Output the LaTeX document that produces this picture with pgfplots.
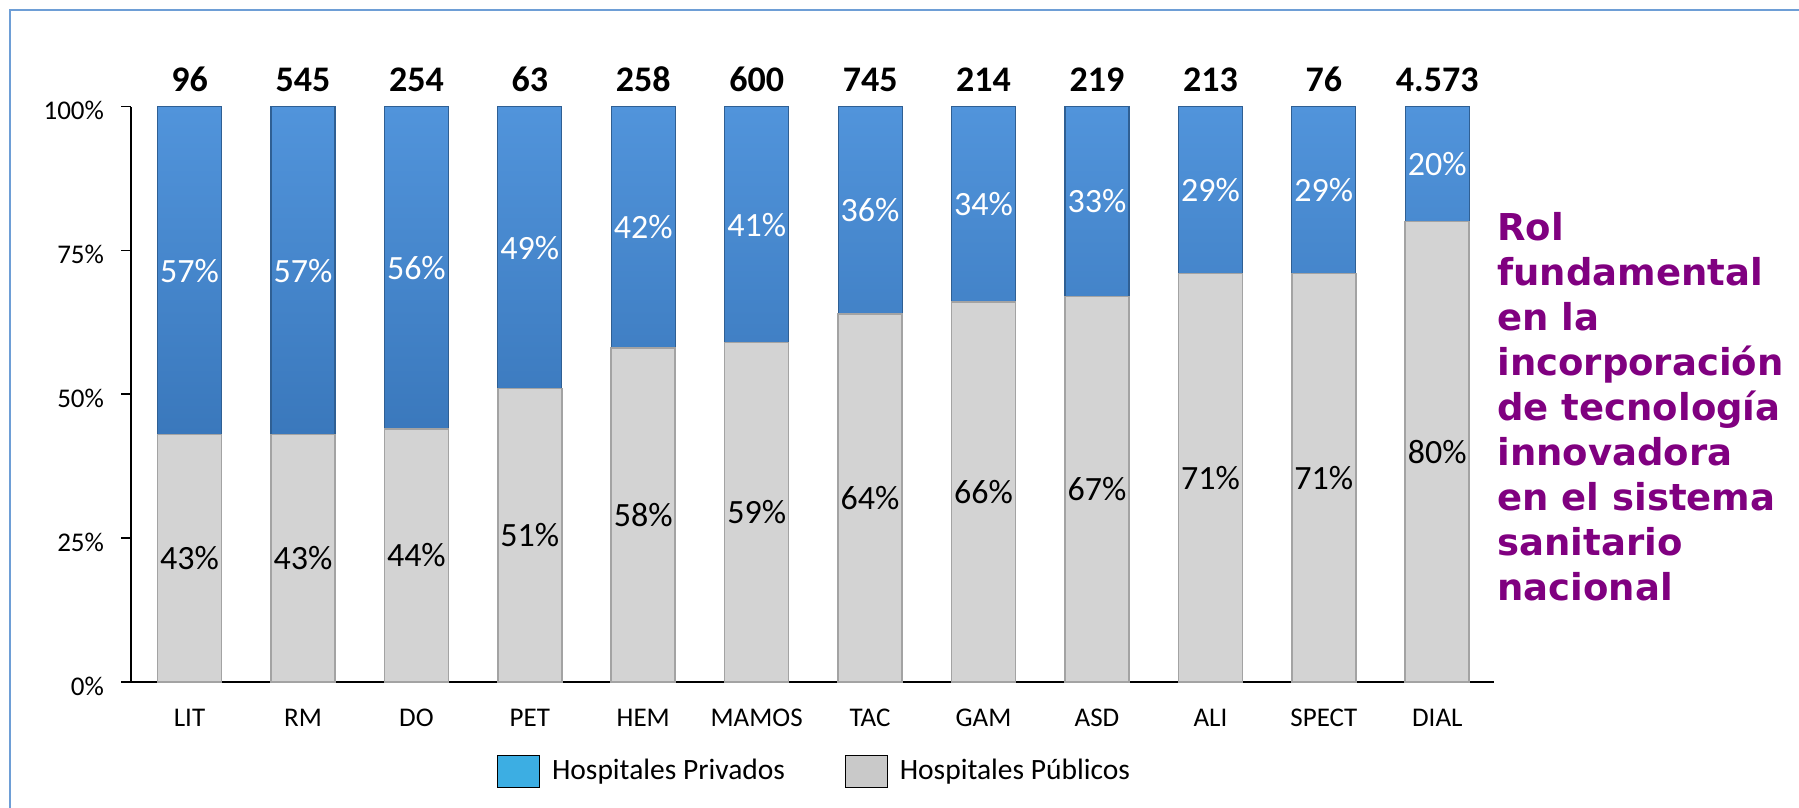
\documentclass[border=0pt]{standalone}
\usepackage{fontspec}
\setmainfont{Carlito}
\newfontfamily\dejavu{DejaVu Sans}
\usepackage{pgfplots}
\pgfplotsset{compat=1.18}
\definecolor{barbluetop}{HTML}{5194DB}
\definecolor{barbluebot}{HTML}{3A78BC}
\definecolor{blueedge}{HTML}{2F5F93}
\definecolor{bargrey}{HTML}{D3D3D3}
\definecolor{greyedge}{HTML}{A3A3A3}
\definecolor{legblue}{HTML}{3CAEE3}
\definecolor{leggrey}{HTML}{C9C9C9}
\definecolor{rolpurple}{HTML}{800080}
\definecolor{framecol}{HTML}{6E9ED6}
\begin{document}
\begin{tikzpicture}
\path[use as bounding box] (0,0) rectangle (899.5pt,404pt);
\draw[framecol, line width=1.2pt] (5pt,0) -- (5pt,399pt) -- (899.5pt,399pt);
\begin{axis}[
  at={(65.5pt,63pt)}, anchor=south west,
  scale only axis, width=681.5pt, height=287.7pt,
  ybar stacked, bar width=32pt,
  xmin=-0.516, xmax=11.5, ymin=0, ymax=100,
  clip=false,
  axis x line=bottom, axis y line=left,
  axis line style={-, black, line width=0.8pt},
  xtick={0,1,2,3,4,5,6,7,8,9,10,11},
  xticklabels={LIT,RM,DO,PET,HEM,MAMOS,TAC,GAM,ASD,ALI,SPECT,DIAL},
  x tick style={draw=none},
  ytick={0,25,50,75,100},
  yticklabels={0\%,25\%,50\%,75\%,100\%},
  tick align=outside, major tick length=5pt,
  y tick style={black, line width=0.8pt},
  tick label style={font=\fontsize{13.5}{16}\selectfont},
  xticklabel style={yshift=-5pt},
  yticklabel style={xshift=-5pt, yshift=-2pt},
  legend style={at={(0.264,-0.155)}, anchor=west, draw=none, fill=none,
    legend columns=2, font=\fontsize{14.75}{18}\selectfont,
    /tikz/every odd column/.append style={column sep=4pt},
    /tikz/every even column/.append style={column sep=28pt}},
  legend image code/.code={\fill[#1] (0pt,-8pt) rectangle (21pt,8pt);},
]
\addlegendimage{fill=legblue}
\addlegendentry{Hospitales Privados}
\addlegendimage{fill=leggrey}
\addlegendentry{Hospitales Públicos}

% Hospitales Públicos (bottom segment)
\addplot[fill=bargrey, draw=greyedge, line width=0.8pt,
  nodes near coords, point meta=explicit symbolic,
  every node near coord/.append style={anchor=center, text=black, font=\fontsize{17}{20}\selectfont}]
  coordinates {(0,43)[43\%] (1,43)[43\%] (2,44)[44\%] (3,51)[51\%] (4,58)[58\%] (5,59)[59\%]
   (6,64)[64\%] (7,66)[66\%] (8,67)[67\%] (9,71)[71\%] (10,71)[71\%] (11,80)[80\%]};
% Hospitales Privados (top segment)
\addplot[top color=barbluetop, bottom color=barbluebot, draw=blueedge, line width=0.6pt,
  nodes near coords, point meta=explicit symbolic,
  every node near coord/.append style={anchor=center, text=white, font=\fontsize{17}{20}\selectfont}]
  coordinates {(0,57)[57\%] (1,57)[57\%] (2,56)[56\%] (3,49)[49\%] (4,42)[42\%] (5,41)[41\%]
   (6,36)[36\%] (7,34)[34\%] (8,33)[33\%] (9,29)[29\%] (10,29)[29\%] (11,20)[20\%]};
% totals (zero-height segment on top carrying the labels)
\addplot[draw=none, fill=none, stacked ignores zero=false,
  nodes near coords, point meta=explicit symbolic,
  every node near coord/.append style={anchor=base, yshift=7.3pt, text=black, font=\bfseries\fontsize{18}{22}\selectfont}]
  coordinates {(0,0)[96] (1,0)[545] (2,0)[254] (3,0)[63] (4,0)[258] (5,0)[600]
   (6,0)[745] (7,0)[214] (8,0)[219] (9,0)[213] (10,0)[76] (11,0)[4.573]};
\end{axis}
\node[anchor=north west, inner sep=0pt, align=left, text=rolpurple,
  font=\dejavu\bfseries\fontsize{18.5}{22.5}\selectfont] at (748.5pt,298pt)
  {Rol\\fundamental\\en la\\incorporación\\de tecnología\\innovadora\\en el sistema\\sanitario\\nacional};
\end{tikzpicture}
\end{document}
